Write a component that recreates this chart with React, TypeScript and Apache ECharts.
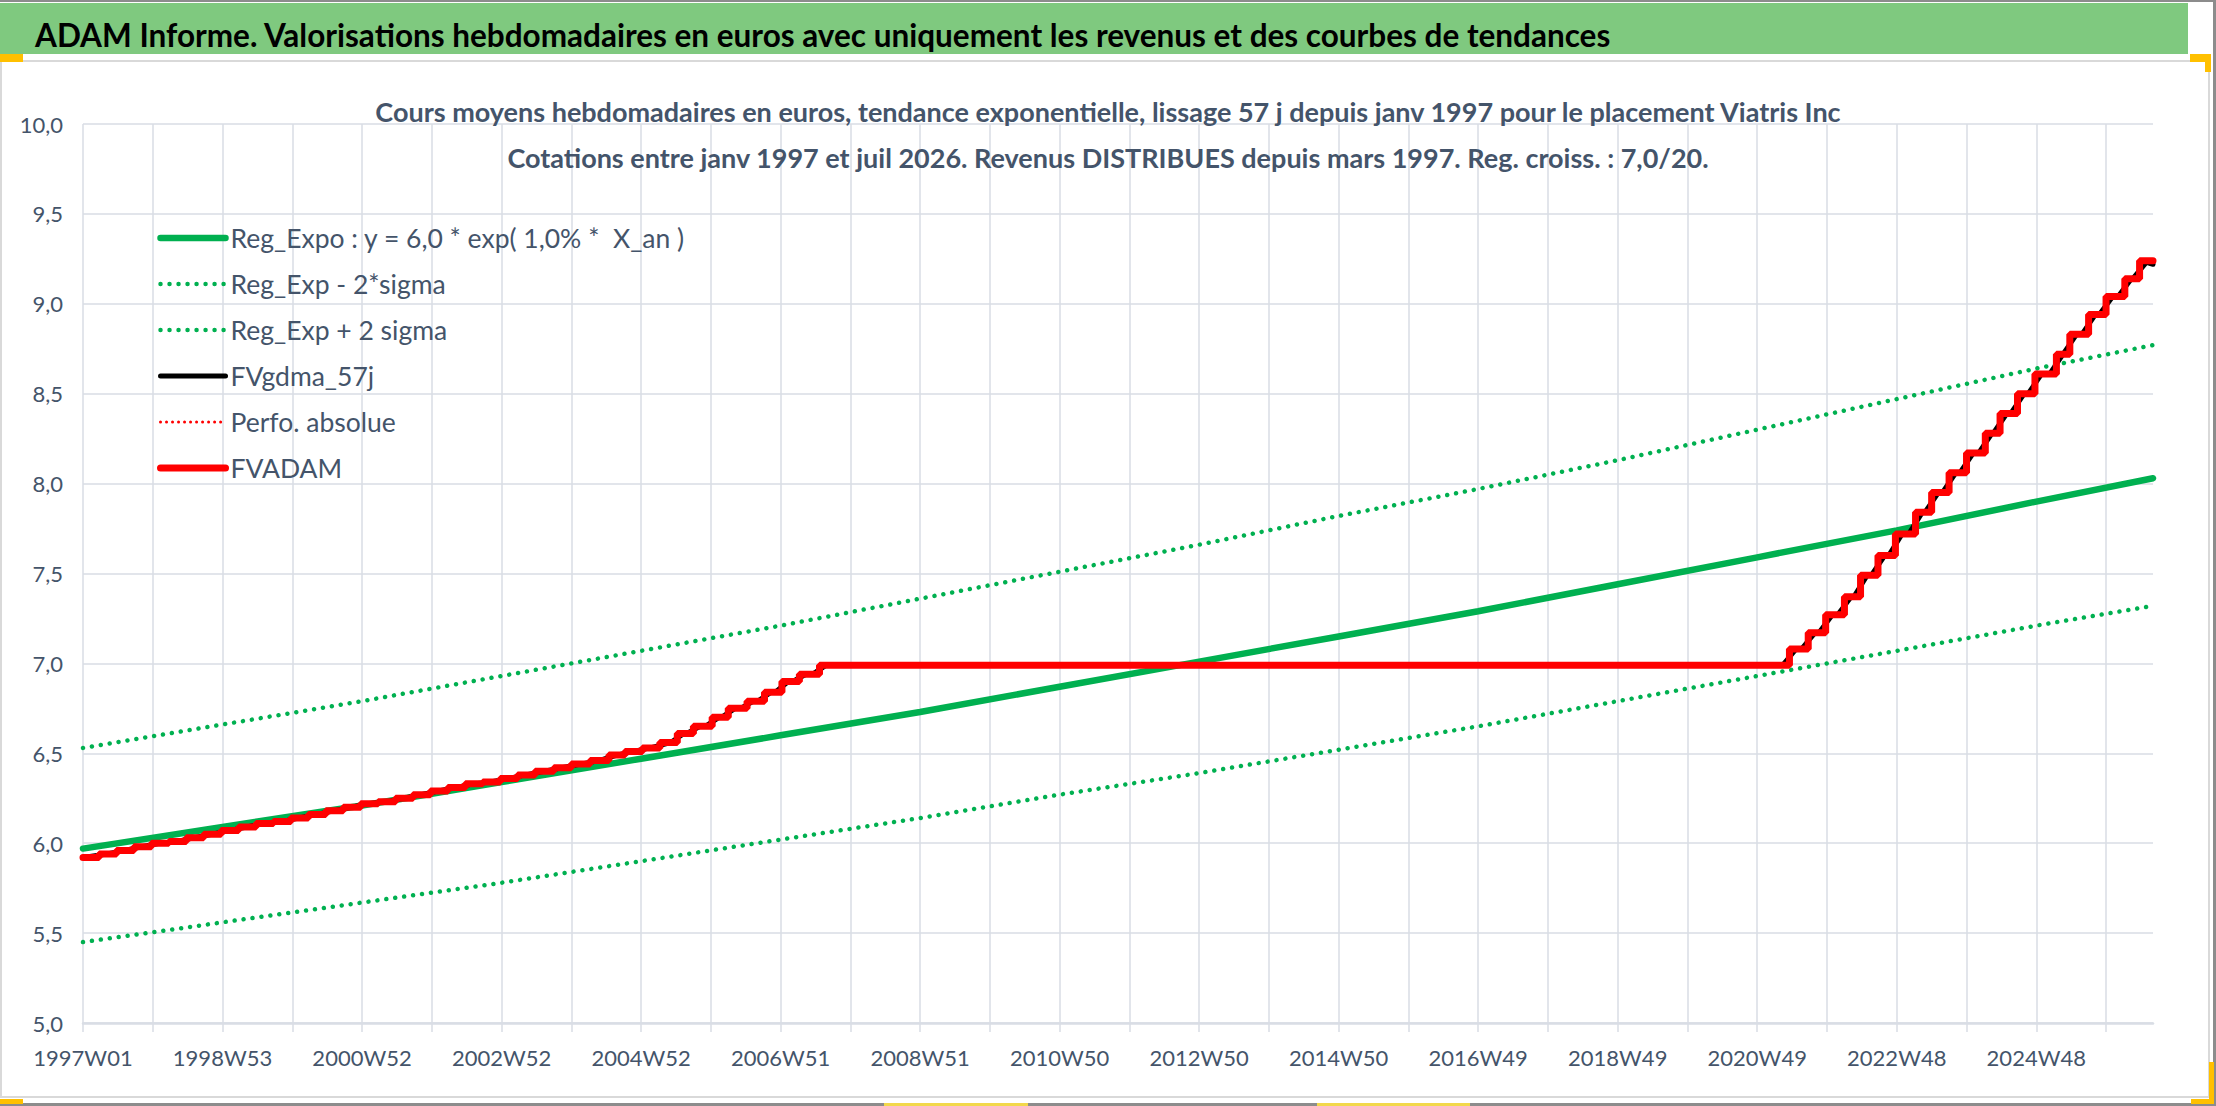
import React, { useEffect, useRef } from 'react'
import * as echarts from 'echarts'

// semaines ISO de l'axe : 1997W01 .. 2026W31
const FIRST_MONDAY = Date.UTC(1996, 11, 30)
const LAST_WEEK = '2026W31'
const DAY = 86400000

const isoWeekLabel = (t: number) => {
  const thu = new Date(t + 3 * DAY)
  const year = thu.getUTCFullYear()
  const week = Math.floor((thu.getTime() - Date.UTC(year, 0, 1)) / (7 * DAY)) + 1
  return year + 'W' + String(week).padStart(2, '0')
}

const weeks: string[] = []
for (let k = 0; ; k++) {
  const label = isoWeekLabel(FIRST_MONDAY + k * 7 * DAY)
  weeks.push(label)
  if (label === LAST_WEEK) break
}

const mainTitle =
  'ADAM Informe. Valorisations hebdomadaires en euros avec uniquement les revenus et des courbes de tendances'
const subtitleLines = [
  'Cours moyens hebdomadaires en euros, tendance exponentielle, lissage 57 j depuis janv 1997 pour le placement Viatris Inc',
  'Cotations entre janv 1997 et juil 2026. Revenus DISTRIBUES depuis mars 1997. Reg. croiss. : 7,0/20.',
]

const seriesNames = [
  'Reg_Expo : y = 6,0 * exp( 1,0% *  X_an )',
  'Reg_Exp - 2*sigma',
  'Reg_Exp + 2 sigma',
  'FVgdma_57j',
  'Perfo. absolue',
  'FVADAM',
]

// tendances (index de semaine -> valeur)
const trendWeeks = [0, 104, 208, 312, 416, 520, 624, 728, 832, 936, 1040, 1144, 1248, 1352, 1456, 1543]
const regExpo = [5.97, 6.09, 6.21, 6.34, 6.47, 6.6, 6.73, 6.87, 7.01, 7.15, 7.29, 7.44, 7.59, 7.74, 7.9, 8.03]
const regLow = [5.45, 5.56, 5.67, 5.78, 5.9, 6.02, 6.14, 6.27, 6.39, 6.52, 6.65, 6.79, 6.93, 7.07, 7.21, 7.32]
const regHigh = [6.53, 6.66, 6.79, 6.93, 7.07, 7.21, 7.36, 7.51, 7.66, 7.82, 7.97, 8.13, 8.3, 8.47, 8.64, 8.77]

// FVADAM : semaine du palier et niveau atteint
const adamWeeks = [
  0, 12, 25, 38, 51, 64, 77, 90, 103, 116, 129, 142, 155, 168, 181, 194, 207, 220, 233, 246,
  259, 272, 285, 298, 311, 324, 337, 351, 364, 378, 392, 404, 417, 430, 443, 455, 469, 481, 495, 508,
  521, 534, 549, 1272, 1286, 1299, 1313, 1325, 1338, 1351, 1366, 1378, 1391, 1404, 1418, 1429, 1442, 1455, 1471, 1481,
  1495, 1508, 1522, 1533, 1543,
]
const adamValues = [
  5.92, 5.94, 5.96, 5.98, 6.0, 6.01, 6.03, 6.05, 6.07, 6.09, 6.11, 6.12, 6.14, 6.16, 6.18, 6.2, 6.22, 6.23, 6.25, 6.27,
  6.29, 6.31, 6.33, 6.34, 6.36, 6.38, 6.4, 6.42, 6.44, 6.46, 6.49, 6.51, 6.53, 6.56, 6.61, 6.65, 6.7, 6.75, 6.79, 6.84,
  6.9, 6.94, 6.99, 7.08, 7.17, 7.27, 7.37, 7.49, 7.6, 7.72, 7.84, 7.95, 8.06, 8.17, 8.28, 8.39, 8.5, 8.61, 8.72, 8.83,
  8.94, 9.04, 9.14, 9.24, 9.24,
]

// moyenne glissante 57 j : [semaine, valeur]
const gdmaPoints = [
  [0, 5.92], [18, 5.94], [31, 5.96], [44, 5.98], [57, 6.0], [70, 6.01], [83, 6.03], [96, 6.05], [109, 6.07],
  [122, 6.09], [135, 6.11], [148, 6.12], [161, 6.14], [174, 6.16], [187, 6.18], [200, 6.2], [213, 6.22],
  [226, 6.23], [239, 6.25], [252, 6.27], [265, 6.29], [278, 6.31], [291, 6.33], [304, 6.34], [317, 6.36],
  [330, 6.38], [344, 6.4], [357, 6.42], [371, 6.44], [385, 6.46], [398, 6.49], [410, 6.51], [423, 6.53],
  [438, 6.56], [448, 6.61], [450, 6.61], [460, 6.65], [464, 6.65], [474, 6.7], [476, 6.7], [486, 6.75],
  [490, 6.75], [500, 6.79], [503, 6.79], [513, 6.84], [516, 6.84], [526, 6.9], [529, 6.9], [539, 6.94],
  [544, 6.94], [554, 6.99], [1267, 6.99], [1277, 7.08], [1281, 7.08], [1291, 7.17], [1294, 7.17], [1304, 7.27],
  [1308, 7.27], [1318, 7.37], [1320, 7.37], [1330, 7.49], [1333, 7.49], [1343, 7.6], [1346, 7.6], [1356, 7.72],
  [1361, 7.72], [1371, 7.84], [1373, 7.84], [1383, 7.95], [1386, 7.95], [1396, 8.06], [1399, 8.06], [1409, 8.17],
  [1413, 8.17], [1423, 8.28], [1424, 8.28], [1434, 8.39], [1437, 8.39], [1447, 8.5], [1450, 8.5], [1460, 8.61],
  [1466, 8.61], [1476, 8.72], [1486, 8.83], [1490, 8.83], [1500, 8.94], [1503, 8.94], [1513, 9.04], [1517, 9.04],
  [1527, 9.14], [1528, 9.14], [1538, 9.23], [1543, 9.22],
]

const pairs = (xs: number[], ys: number[]) => xs.map((x, i) => [x, ys[i]])

const FONT = 'Lato'
const TEXT = '#44546a'
const GRID = '#d9dde5'
const GREEN = '#00b050'
const RED = '#ff0000'
const dots = [0.01, 9]
const smallDots = [0.01, 6]

const App = () => {
  const chartRef = useRef<HTMLDivElement>(null)

  useEffect(() => {
    const chart = echarts.init(chartRef.current!, null, { renderer: 'svg' })

    const lineStyles = [
      { color: GREEN, width: 6.5, cap: 'round' },
      { color: GREEN, width: 4.5, type: dots, cap: 'round' },
      { color: GREEN, width: 4.5, type: dots, cap: 'round' },
      { color: '#000000', width: 5, cap: 'round' },
      { color: RED, width: 3, type: smallDots, cap: 'round' },
      { color: RED, width: 7, cap: 'round' },
    ]

    const seriesData = [
      pairs(trendWeeks, regExpo),
      pairs(trendWeeks, regLow),
      pairs(trendWeeks, regHigh),
      gdmaPoints,
      pairs(adamWeeks, adamValues),
      pairs(adamWeeks, adamValues),
    ]

    chart.setOption({
      animation: false,
      backgroundColor: '#ffffff',
      textStyle: { fontFamily: FONT },
      title: [
        {
          text: mainTitle,
          left: 30,
          top: 11,
          textStyle: { fontFamily: FONT, fontSize: 31.5, fontWeight: 'bold', color: '#000000', lineHeight: 38 },
        },
        {
          text: subtitleLines.join('\n'),
          left: 'center',
          top: 83,
          textStyle: { fontFamily: FONT, fontSize: 27, fontWeight: 'bold', color: TEXT, lineHeight: 46 },
        },
      ],
      graphic: {
        elements: [
          { type: 'rect', z: -1, shape: { x: 0, y: 0, width: 2216, height: 2 }, style: { fill: '#8c8c8c' } },
          { type: 'rect', z: -1, shape: { x: 0, y: 3, width: 2188, height: 51 }, style: { fill: '#7fc97f' } },
          {
            type: 'rect',
            z: -1,
            shape: { x: 1, y: 61, width: 2208, height: 1036 },
            style: { fill: 'none', stroke: '#d9d9d9', lineWidth: 2 },
          },
          { type: 'rect', z: -1, shape: { x: 0, y: 1103, width: 2216, height: 3 }, style: { fill: '#8c8c8c' } },
          { type: 'rect', z: -1, shape: { x: 2213, y: 0, width: 3, height: 1106 }, style: { fill: '#8c8c8c' } },
          { type: 'rect', z: -1, shape: { x: 0, y: 54, width: 23, height: 8 }, style: { fill: '#ffc000' } },
          { type: 'rect', z: -1, shape: { x: 2190, y: 54, width: 21, height: 8 }, style: { fill: '#ffc000' } },
          { type: 'rect', z: -1, shape: { x: 2205, y: 54, width: 6, height: 18 }, style: { fill: '#ffc000' } },
          { type: 'rect', z: -1, shape: { x: 0, y: 1099, width: 23, height: 5 }, style: { fill: '#ffc000' } },
          { type: 'rect', z: -1, shape: { x: 2191, y: 1099, width: 23, height: 5 }, style: { fill: '#ffc000' } },
          { type: 'rect', z: -1, shape: { x: 2209, y: 1062, width: 5, height: 42 }, style: { fill: '#ffc000' } },
          { type: 'rect', z: -1, shape: { x: 884, y: 1103, width: 144, height: 3 }, style: { fill: '#f2d84b' } },
          { type: 'rect', z: -1, shape: { x: 1317, y: 1103, width: 153, height: 3 }, style: { fill: '#f2d84b' } },
        ],
      },
      legend: {
        orient: 'vertical',
        left: 152,
        top: 218,
        itemWidth: 65,
        itemHeight: 16,
        itemGap: 16,
        itemStyle: { opacity: 0 },
        textStyle: { fontFamily: FONT, fontSize: 26.5, lineHeight: 30, color: TEXT },
        data: seriesNames.map((name, i) => ({ name, lineStyle: { ...lineStyles[i] } })),
      },
      grid: { left: 83, right: 63, top: 124, bottom: 83 },
      xAxis: {
        type: 'category',
        data: weeks,
        boundaryGap: false,
        axisLine: { lineStyle: { color: GRID, width: 2.5 } },
        axisTick: { show: true, interval: 51, length: 9, lineStyle: { color: GRID, width: 1.5 } },
        axisLabel: { interval: 103, margin: 23, fontSize: 22, color: TEXT, fontFamily: FONT },
        splitLine: { show: true, interval: 51, lineStyle: { color: GRID, width: 1.5 } },
      },
      yAxis: {
        type: 'value',
        min: 5,
        max: 10,
        interval: 0.5,
        axisLine: { show: false },
        axisTick: { show: false },
        axisLabel: {
          margin: 20,
          fontSize: 22,
          color: TEXT,
          fontFamily: FONT,
          formatter: (v: number) => v.toFixed(1).replace('.', ','),
        },
        splitLine: { lineStyle: { color: GRID, width: 1.5 } },
      },
      series: seriesNames.map((name, i) => ({
        name,
        type: 'line',
        symbol: 'none',
        step: i >= 4 ? 'end' : false,
        data: seriesData[i],
        lineStyle: lineStyles[i],
        itemStyle: { color: lineStyles[i].color },
        emphasis: { disabled: true },
      })),
    })

    return () => {
      chart.dispose()
    }
  }, [])

  return (
    <div
      ref={chartRef}
      style={{ position: 'absolute', left: 0, top: 0, width: '2216px', height: '1106px' }}
    ></div>
  )
}

export default App
